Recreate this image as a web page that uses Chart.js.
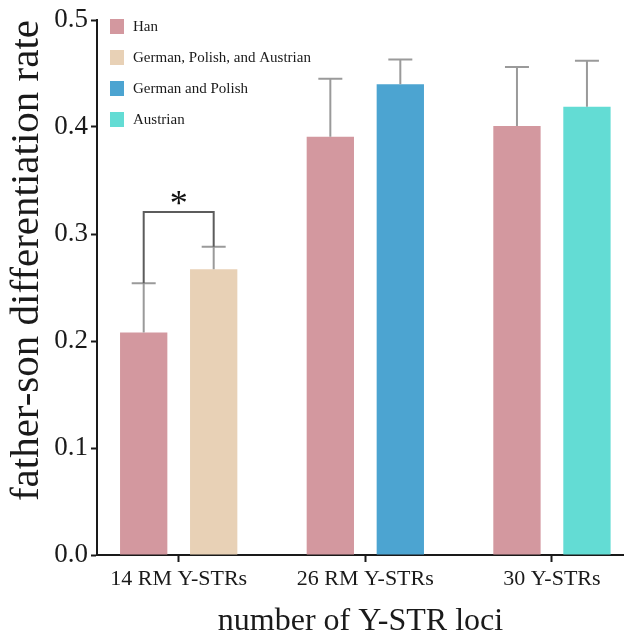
<!DOCTYPE html>
<html>
<head>
<meta charset="utf-8">
<script src="https://cdn.jsdelivr.net/npm/chart.js@4.4.1/dist/chart.umd.min.js"></script>
<style>
  html, body { margin: 0; padding: 0; background: #fff; }
  #wrap { width: 624px; height: 635px; }
</style>
</head>
<body>
<div id="wrap"><canvas id="rateChart" width="624" height="635"></canvas></div>
<script>
// data
const lociGroups = ['14 RM Y-STRs', '26 RM Y-STRs', '30 Y-STRs'];
const groupPos = [0, 1, 2];
const hanLabel = 'Han';
const hanRates = [0.208, 0.391, 0.401];
const hanUpper = [0.254, 0.445, 0.456];
const otherNames = ['German, Polish, and Austrian', 'German and Polish', 'Austrian'];
const otherRates = [0.267, 0.440, 0.419];
const otherUpper = [0.288, 0.463, 0.462];
const yTickValues = [0, 0.1, 0.2, 0.3, 0.4, 0.5];
const sigBracket = 0.3205; // height of the * bracket over 14 RM

const hanColor = '#d3989f';
const otherColors = ['#e8d1b6', '#4ca4d1', '#63dcd4'];
const serif = "'Liberation Serif', 'Times New Roman', serif";
const ink = '#1a1a1a';

// upper whiskers only
const errorBars = {
  id: 'errorBars',
  afterDatasetsDraw(chart) {
    const ctx = chart.ctx;
    const y = chart.scales.y;
    chart.data.datasets.forEach((ds, di) => {
      chart.getDatasetMeta(di).data.forEach((bar, i) => {
        const top = y.getPixelForValue(ds.upper[i]);
        ctx.save();
        ctx.strokeStyle = '#9a9a9a';
        ctx.lineWidth = 2;
        ctx.beginPath();
        ctx.moveTo(bar.x, bar.y);
        ctx.lineTo(bar.x, top);
        ctx.moveTo(bar.x - 12, top);
        ctx.lineTo(bar.x + 12, top);
        ctx.stroke();
        ctx.restore();
      });
    });
  }
};

// significance bracket between the two 14 RM bars
const sigMark = {
  id: 'sigMark',
  afterDatasetsDraw(chart) {
    const ctx = chart.ctx;
    const y = chart.scales.y;
    const a = chart.getDatasetMeta(0).data[0];
    const b = chart.getDatasetMeta(1).data[0];
    const yb = y.getPixelForValue(sigBracket);
    ctx.save();
    ctx.strokeStyle = '#5c5c5c';
    ctx.lineWidth = 2;
    ctx.beginPath();
    ctx.moveTo(a.x, y.getPixelForValue(hanUpper[0]));
    ctx.lineTo(a.x, yb);
    ctx.lineTo(b.x, yb);
    ctx.lineTo(b.x, y.getPixelForValue(otherUpper[0]));
    ctx.stroke();
    ctx.fillStyle = '#111';
    ctx.font = '36px ' + serif;
    ctx.textAlign = 'center';
    ctx.textBaseline = 'alphabetic';
    ctx.fillText('*', (a.x + b.x) / 2, yb + 3);
    ctx.restore();
  }
};

// legend sits inside the plot, top left
const insideLegend = {
  id: 'insideLegend',
  afterDraw(chart) {
    const ctx = chart.ctx;
    const area = chart.chartArea;
    const names = [hanLabel].concat(otherNames);
    const colors = [hanColor].concat(otherColors);
    ctx.save();
    ctx.font = '15px ' + serif;
    ctx.textBaseline = 'middle';
    ctx.textAlign = 'left';
    names.forEach((name, i) => {
      const cy = area.top + 6 + i * 31;
      ctx.fillStyle = colors[i];
      ctx.fillRect(area.left + 13, cy - 7, 14, 15);
      ctx.fillStyle = ink;
      ctx.fillText(name, area.left + 36, cy + 1);
    });
    ctx.restore();
  }
};

new Chart(document.getElementById('rateChart'), {
  type: 'bar',
  data: {
    datasets: [{
      label: hanLabel,
      data: groupPos.map((x, i) => ({ x: x, y: hanRates[i] })),
      upper: hanUpper,
      backgroundColor: hanColor
    }, {
      label: 'Comparison',
      data: groupPos.map((x, i) => ({ x: x, y: otherRates[i] })),
      upper: otherUpper,
      backgroundColor: otherColors
    }]
  },
  options: {
    responsive: false,
    animation: false,
    categoryPercentage: 0.75,
    barPercentage: 0.676,
    layout: { padding: { top: 20, right: 0, left: 0, bottom: 0 } },
    plugins: {
      legend: { display: false },
      tooltip: { enabled: false }
    },
    scales: {
      x: {
        type: 'linear',
        offset: false,
        min: -0.4377,
        max: 2.386,
        afterBuildTicks: (scale) => { scale.ticks = groupPos.map(v => ({ value: v })); },
        afterFit: (scale) => { scale.height = 80; },
        grid: { display: true, offset: false, drawOnChartArea: false, tickLength: 7, color: ink, tickWidth: 2 },
        border: { color: ink, width: 2 },
        ticks: {
          autoSkip: false,
          maxRotation: 0,
          padding: 4,
          color: ink,
          font: { family: serif, size: 22 },
          callback: (v) => lociGroups[v]
        },
        title: {
          display: true,
          text: 'number of Y-STR loci',
          color: ink,
          font: { family: serif, size: 32, lineHeight: 0.85 },
          padding: { top: 0, bottom: 0 }
        }
      },
      y: {
        min: 0,
        max: 0.5,
        afterBuildTicks: (scale) => { scale.ticks = yTickValues.map(v => ({ value: v })); },
        afterFit: (scale) => { scale.width = 97; },
        grid: { display: true, drawOnChartArea: false, tickLength: 6, color: ink, tickWidth: 2 },
        border: { color: ink, width: 2 },
        ticks: {
          padding: 3,
          color: ink,
          font: { family: serif, size: 27 },
          callback: (v) => v.toFixed(1)
        },
        title: {
          display: true,
          text: 'father-son differentiation rate',
          align: 'end',
          color: ink,
          font: { family: serif, size: 41, lineHeight: 1.2 },
          padding: { top: 3, bottom: 0 }
        }
      }
    }
  },
  plugins: [errorBars, sigMark, insideLegend]
});
</script>
</body>
</html>
